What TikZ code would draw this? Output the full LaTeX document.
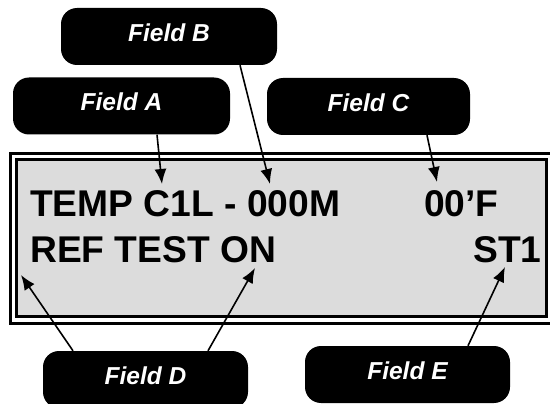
\documentclass[tikz,border=0pt]{standalone}
\usepackage{fontspec}
\setmainfont{Liberation Sans}
\usepackage{tikz}
\usetikzlibrary{arrows.meta, positioning, calc}
\definecolor{lcdgray}{RGB}{220,220,220}

\begin{document}
\begin{tikzpicture}[x=1pt, y=-1pt, >={Latex[length=15pt,width=12pt]},
  field/.style={fill=black, text=white, rounded corners=16pt, minimum height=57pt,
    text depth=8pt, font=\fontsize{24.5}{28}\selectfont\bfseries\itshape},
  lcd/.style={anchor=base west, inner sep=0pt, font=\fontsize{37.2}{40}\selectfont\bfseries},
  ptr/.style={->, line width=1.6pt}]
  \useasboundingbox (0,0) rectangle (550,404);
  \clip (0,0) rectangle (550,404);
  % ---- display frame: outer rule, inner rule with grey panel ----
  \draw[line width=3pt] (10.5,153.3) rectangle (556,323.3);
  \draw[line width=3pt, fill=lcdgray] (16.5,160) rectangle (546.5,316.5);
  % ---- display text ----
  \node[lcd] (temp) at (30,217) {TEMP C1L - 000M};
  \node[lcd] (deg)  at (424,217) {00’F};
  \node[lcd] (ref)  at (30,262) {REF TEST ON};
  \node[lcd] (st)   at (473,262) {ST1};
  % ---- field call-outs ----
  \node[field, minimum width=216pt] (fb) at (169,36.5)  {Field B};
  \node[field, minimum width=217pt] (fa) at (121.5,106) {Field A};
  \node[field, minimum width=203pt] (fc) at (368.5,106.5) {Field C};
  \node[field, minimum width=205pt] (fd) at (145.5,379.5) {Field D};
  \node[field, minimum width=205pt] (fe) at (407.5,374.5) {Field E};
  % arrow tips on the display
  \coordinate (tipa)  at (162,184);
  \coordinate (tipb)  at (270,184);
  \coordinate (tipc)  at (437,182);
  \coordinate (tipd1) at (21,275);
  \coordinate (tipd2) at (255,268);
  \coordinate (tipe)  at (505,267);
  % ---- pointers ----
  \draw[ptr] ($(fa.south)+(35.5,0)$) -- (tipa);
  \draw[ptr] ($(fb.south)+(71,0)$)   -- (tipb);
  \draw[ptr] ($(fc.south)+(58.5,0)$) -- (tipc);
  \draw[ptr] ($(fd.north)+(-72.5,0)$) -- (tipd1);
  \draw[ptr] ($(fd.north)+(62.5,0)$) -- (tipd2);
  \draw[ptr] ($(fe.north)+(60.5,0)$) -- (tipe);
\end{tikzpicture}
\end{document}
